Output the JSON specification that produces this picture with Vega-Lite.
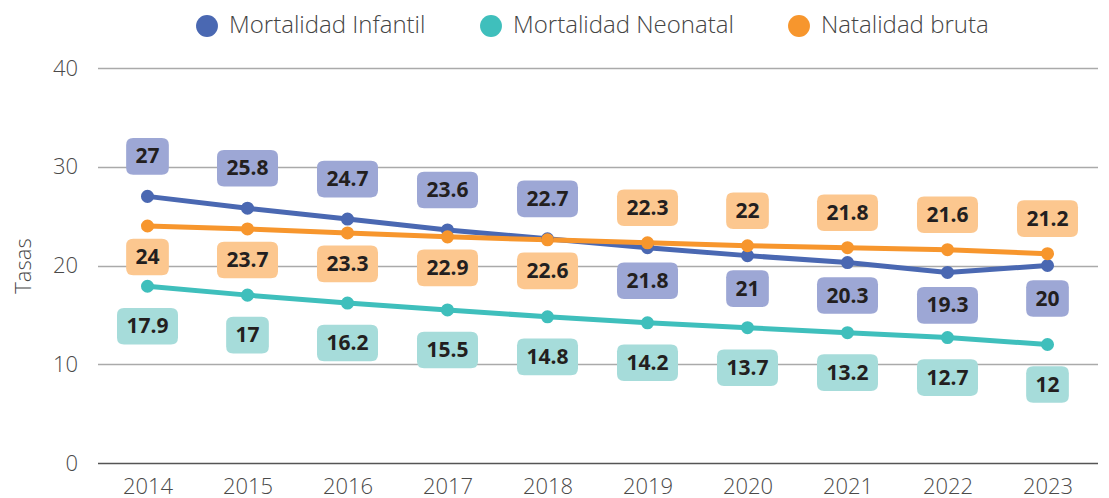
{
  "$schema": "https://vega.github.io/schema/vega-lite/v6.json",
  "width": 1000,
  "height": 395,
  "autosize": {"type": "none"},
  "padding": {"left": 97.5, "top": 68, "right": 11.5, "bottom": 35},
  "background": "white",
  "config": {"view": {"stroke": null}, "font": "Open Sans"},
  "data": {"values": [
    {"series": "Mortalidad Neonatal", "year": 2014, "value": 17.9},
    {"series": "Mortalidad Neonatal", "year": 2015, "value": 17},
    {"series": "Mortalidad Neonatal", "year": 2016, "value": 16.2},
    {"series": "Mortalidad Neonatal", "year": 2017, "value": 15.5},
    {"series": "Mortalidad Neonatal", "year": 2018, "value": 14.8},
    {"series": "Mortalidad Neonatal", "year": 2019, "value": 14.2},
    {"series": "Mortalidad Neonatal", "year": 2020, "value": 13.7},
    {"series": "Mortalidad Neonatal", "year": 2021, "value": 13.2},
    {"series": "Mortalidad Neonatal", "year": 2022, "value": 12.7},
    {"series": "Mortalidad Neonatal", "year": 2023, "value": 12},
    {"series": "Mortalidad Infantil", "year": 2014, "value": 27},
    {"series": "Mortalidad Infantil", "year": 2015, "value": 25.8},
    {"series": "Mortalidad Infantil", "year": 2016, "value": 24.7},
    {"series": "Mortalidad Infantil", "year": 2017, "value": 23.6},
    {"series": "Mortalidad Infantil", "year": 2018, "value": 22.7},
    {"series": "Mortalidad Infantil", "year": 2019, "value": 21.8},
    {"series": "Mortalidad Infantil", "year": 2020, "value": 21},
    {"series": "Mortalidad Infantil", "year": 2021, "value": 20.3},
    {"series": "Mortalidad Infantil", "year": 2022, "value": 19.3},
    {"series": "Mortalidad Infantil", "year": 2023, "value": 20},
    {"series": "Natalidad bruta", "year": 2014, "value": 24},
    {"series": "Natalidad bruta", "year": 2015, "value": 23.7},
    {"series": "Natalidad bruta", "year": 2016, "value": 23.3},
    {"series": "Natalidad bruta", "year": 2017, "value": 22.9},
    {"series": "Natalidad bruta", "year": 2018, "value": 22.6},
    {"series": "Natalidad bruta", "year": 2019, "value": 22.3},
    {"series": "Natalidad bruta", "year": 2020, "value": 22},
    {"series": "Natalidad bruta", "year": 2021, "value": 21.8},
    {"series": "Natalidad bruta", "year": 2022, "value": 21.6},
    {"series": "Natalidad bruta", "year": 2023, "value": 21.2}
  ]},
  "encoding": {
    "x": {
      "field": "year", "type": "ordinal",
      "scale": {"type": "point", "padding": 0.5},
      "axis": {"title": null, "labelAngle": 0, "domain": false, "ticks": false, "grid": false,
               "labelPadding": 13, "labelFontSize": 22, "labelColor": "#4a4a4a", "labelFont": "Open Sans", "labelFontWeight": 300}
    },
    "y": {
      "field": "value", "type": "quantitative",
      "scale": {"domain": [0, 40]},
      "axis": {"values": [0, 10, 20, 30, 40], "title": "Tasas", "domain": false, "ticks": false, "grid": true,
               "gridColor": {"condition": {"test": "datum.value === 0", "value": "#555555"}, "value": "#aaaaaa"},
               "gridWidth": 1.5,
               "labelPadding": 20, "labelFontSize": 22, "labelColor": "#4a4a4a", "labelFont": "Open Sans", "labelFontWeight": 300,
               "titleFontSize": 22, "titleFontWeight": 300, "titleColor": "#4a4a4a", "titleFont": "Open Sans", "titlePadding": 17}
    }
  },
  "layer": [
    {
      "mark": {"type": "line", "strokeWidth": 5},
      "encoding": {
        "color": {"field": "series", "type": "nominal",
          "scale": {"domain": ["Mortalidad Infantil", "Mortalidad Neonatal", "Natalidad bruta"], "range": ["#4a68b2", "#3fbfbc", "#f7962d"]},
          "legend": {"title": null, "orient": "none", "legendX": 97.5, "legendY": -54, "direction": "horizontal",
                     "symbolType": "circle", "symbolSize": 480, "symbolStrokeWidth": 0, "symbolOpacity": 1,
                     "labelFontSize": 24, "labelColor": "#444444", "labelFont": "Open Sans", "labelFontWeight": 300, "labelLimit": 0,
                     "labelOffset": 10, "columnPadding": 53}
        }
      }
    },
    {
      "mark": {"type": "point", "filled": true, "size": 170, "opacity": 1, "strokeWidth": 0},
      "encoding": {
        "color": {"field": "series", "type": "nominal",
          "scale": {"domain": ["Mortalidad Infantil", "Mortalidad Neonatal", "Natalidad bruta"], "range": ["#4a68b2", "#3fbfbc", "#f7962d"]},
          "legend": {"title": null, "orient": "none", "legendX": 97.5, "legendY": -54, "direction": "horizontal",
                     "symbolType": "circle", "symbolSize": 480, "symbolStrokeWidth": 0, "symbolOpacity": 1,
                     "labelFontSize": 24, "labelColor": "#444444", "labelFont": "Open Sans", "labelFontWeight": 300, "labelLimit": 0,
                     "labelOffset": 10, "columnPadding": 53}
        }
      }
    },
    {
      "transform": [{"filter": "datum.series === 'Mortalidad Infantil' && datum.year <= 2018"}],
      "layer": [
        {"mark": {"type": "point", "filled": true, "opacity": 1, "size": 3721, "yOffset": -40, "fill": "#9da7d5", "strokeWidth": 0},
         "encoding": {"shape": {"condition": {"test": "datum.value % 1 === 0", "value": "M-0.47,-0.6 L0.47,-0.6 Q0.7,-0.6 0.7,-0.37 L0.7,0.37 Q0.7,0.6 0.47,0.6 L-0.47,0.6 Q-0.7,0.6 -0.7,0.37 L-0.7,-0.37 Q-0.7,-0.6 -0.47,-0.6 Z"}, "value": "M-0.77,-0.6 L0.77,-0.6 Q1,-0.6 1,-0.37 L1,0.37 Q1,0.6 0.77,0.6 L-0.77,0.6 Q-1,0.6 -1,0.37 L-1,-0.37 Q-1,-0.6 -0.77,-0.6 Z"}}},
        {"mark": {"type": "text", "yOffset": -39, "fontSize": 21, "fontWeight": "bold", "color": "#231f20", "font": "Open Sans", "baseline": "middle", "align": "center"},
         "encoding": {"text": {"field": "value", "type": "quantitative"}}}
      ]
    },
    {
      "transform": [{"filter": "datum.series === 'Mortalidad Infantil' && datum.year >= 2019"}],
      "layer": [
        {"mark": {"type": "point", "filled": true, "opacity": 1, "size": 3721, "yOffset": 33, "fill": "#9da7d5", "strokeWidth": 0},
         "encoding": {"shape": {"condition": {"test": "datum.value % 1 === 0", "value": "M-0.47,-0.6 L0.47,-0.6 Q0.7,-0.6 0.7,-0.37 L0.7,0.37 Q0.7,0.6 0.47,0.6 L-0.47,0.6 Q-0.7,0.6 -0.7,0.37 L-0.7,-0.37 Q-0.7,-0.6 -0.47,-0.6 Z"}, "value": "M-0.77,-0.6 L0.77,-0.6 Q1,-0.6 1,-0.37 L1,0.37 Q1,0.6 0.77,0.6 L-0.77,0.6 Q-1,0.6 -1,0.37 L-1,-0.37 Q-1,-0.6 -0.77,-0.6 Z"}}},
        {"mark": {"type": "text", "yOffset": 34, "fontSize": 21, "fontWeight": "bold", "color": "#231f20", "font": "Open Sans", "baseline": "middle", "align": "center"},
         "encoding": {"text": {"field": "value", "type": "quantitative"}}}
      ]
    },
    {
      "transform": [{"filter": "datum.series === 'Natalidad bruta' && datum.year <= 2018"}],
      "layer": [
        {"mark": {"type": "point", "filled": true, "opacity": 1, "size": 3721, "yOffset": 31, "fill": "#fcc78f", "strokeWidth": 0},
         "encoding": {"shape": {"condition": {"test": "datum.value % 1 === 0", "value": "M-0.47,-0.6 L0.47,-0.6 Q0.7,-0.6 0.7,-0.37 L0.7,0.37 Q0.7,0.6 0.47,0.6 L-0.47,0.6 Q-0.7,0.6 -0.7,0.37 L-0.7,-0.37 Q-0.7,-0.6 -0.47,-0.6 Z"}, "value": "M-0.77,-0.6 L0.77,-0.6 Q1,-0.6 1,-0.37 L1,0.37 Q1,0.6 0.77,0.6 L-0.77,0.6 Q-1,0.6 -1,0.37 L-1,-0.37 Q-1,-0.6 -0.77,-0.6 Z"}}},
        {"mark": {"type": "text", "yOffset": 32, "fontSize": 21, "fontWeight": "bold", "color": "#231f20", "font": "Open Sans", "baseline": "middle", "align": "center"},
         "encoding": {"text": {"field": "value", "type": "quantitative"}}}
      ]
    },
    {
      "transform": [{"filter": "datum.series === 'Natalidad bruta' && datum.year >= 2019"}],
      "layer": [
        {"mark": {"type": "point", "filled": true, "opacity": 1, "size": 3721, "yOffset": -35, "fill": "#fcc78f", "strokeWidth": 0},
         "encoding": {"shape": {"condition": {"test": "datum.value % 1 === 0", "value": "M-0.47,-0.6 L0.47,-0.6 Q0.7,-0.6 0.7,-0.37 L0.7,0.37 Q0.7,0.6 0.47,0.6 L-0.47,0.6 Q-0.7,0.6 -0.7,0.37 L-0.7,-0.37 Q-0.7,-0.6 -0.47,-0.6 Z"}, "value": "M-0.77,-0.6 L0.77,-0.6 Q1,-0.6 1,-0.37 L1,0.37 Q1,0.6 0.77,0.6 L-0.77,0.6 Q-1,0.6 -1,0.37 L-1,-0.37 Q-1,-0.6 -0.77,-0.6 Z"}}},
        {"mark": {"type": "text", "yOffset": -34, "fontSize": 21, "fontWeight": "bold", "color": "#231f20", "font": "Open Sans", "baseline": "middle", "align": "center"},
         "encoding": {"text": {"field": "value", "type": "quantitative"}}}
      ]
    },
    {
      "transform": [{"filter": "datum.series === 'Mortalidad Neonatal'"}],
      "layer": [
        {"mark": {"type": "point", "filled": true, "opacity": 1, "size": 3721, "yOffset": 40, "fill": "#a6dcda", "strokeWidth": 0},
         "encoding": {"shape": {"condition": {"test": "datum.value % 1 === 0", "value": "M-0.47,-0.6 L0.47,-0.6 Q0.7,-0.6 0.7,-0.37 L0.7,0.37 Q0.7,0.6 0.47,0.6 L-0.47,0.6 Q-0.7,0.6 -0.7,0.37 L-0.7,-0.37 Q-0.7,-0.6 -0.47,-0.6 Z"}, "value": "M-0.77,-0.6 L0.77,-0.6 Q1,-0.6 1,-0.37 L1,0.37 Q1,0.6 0.77,0.6 L-0.77,0.6 Q-1,0.6 -1,0.37 L-1,-0.37 Q-1,-0.6 -0.77,-0.6 Z"}}},
        {"mark": {"type": "text", "yOffset": 41, "fontSize": 21, "fontWeight": "bold", "color": "#231f20", "font": "Open Sans", "baseline": "middle", "align": "center"},
         "encoding": {"text": {"field": "value", "type": "quantitative"}}}
      ]
    }
  ]
}
